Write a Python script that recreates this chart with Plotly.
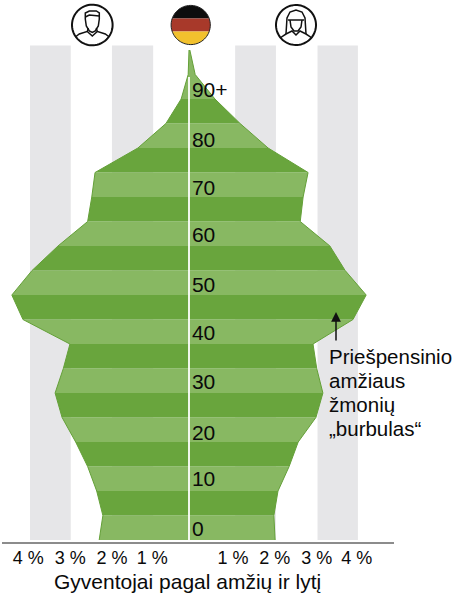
import numpy as np
import plotly.graph_objects as go

W, H = 456, 593

# ---- data ----
ages = [0, 5, 10, 15, 20, 25, 30, 35, 40, 45, 50, 55, 60, 65, 70, 75, 80, 85, 90, 95, 100]
male = [2.18, 2.09, 2.24, 2.46, 2.75, 3.08, 3.25, 3.05, 2.89, 4.03, 4.30, 3.81, 3.18, 2.46, 2.36, 2.28, 1.24, 0.56, 0.19, 0.02, 0.0]
female = [2.09, 2.06, 2.16, 2.43, 2.65, 3.08, 3.25, 3.10, 3.01, 3.98, 4.30, 3.79, 3.42, 2.70, 2.77, 2.89, 1.92, 1.24, 0.63, 0.15, 0.02]
band_low = [-3.86, -1.87, 1.12, 3.12]
band_high = [-2.87, -0.87, 2.11, 4.10]
tick_vals = [-3.9, -2.88, -1.87, -0.89, 1.07, 2.08, 3.1, 4.07]
tick_text = ["4 %", "3 %", "2 %", "1 %", "1 %", "2 %", "3 %", "4 %"]
age_label_pos = [1.9, 12, 21.5, 31.8, 41.8, 51.6, 61.8, 71.4, 81.2, 91.5]
age_labels = ["0", "10", "20", "30", "40", "50", "60", "70", "80", "90+"]
callout_lines = ["Priešpensinio", "amžiaus", "žmonių", "„burbulas“"]
callout_y = [356, 380, 404, 428]

LIGHT = "#88b862"
DARK = "#69a53d"
EDGE = "#64a038"
GREY = "#e6e6e8"
INK = "#0a0a0a"
FONT = "Liberation Sans, Arial, sans-serif"

# pixel geometry of the plot
X0, PX = 189.0, 41.2
Y0, PY = 540.0, 4.9
AXIS_Y = 542.0
XL, XR = 2.0, 394.0

def sx(p):
    return p / W
def sy(p):
    return 1 - p / H

def poly(pts, close=False):
    s = "M" + " L".join(f"{sx(x):.5f},{sy(y):.5f}" for x, y in pts)
    return s + (" Z" if close else "")

def arc(cx, cy, r, a0=0, a1=360, n=72):
    t = np.radians(np.linspace(a0, a1, n))
    return [(cx + r * np.cos(v), cy + r * np.sin(v)) for v in t]

shapes = []
for lo, hi in zip(band_low, band_high):
    shapes.append(dict(type="rect", xref="x", yref="y", x0=lo, x1=hi, y0=0, y1=(Y0 - 45.5) / PY,
                       fillcolor=GREY, line_width=0, layer="below"))

fig = go.Figure()

for i in range(len(ages) - 1):
    if ages[i] == 95:
        continue
    j = i + 1
    if ages[i] == 90:
        ys = [ages[i], ages[i + 1], ages[i + 2], ages[i + 2], ages[i + 1], ages[i]]
        xs = [-male[i], -male[i + 1], -male[i + 2], female[i + 2], female[i + 1], female[i]]
    else:
        ys = [ages[i], ages[j], ages[j], ages[i]]
        xs = [-male[i], -male[j], female[j], female[i]]
    fig.add_trace(go.Scatter(
        x=xs + xs[:1], y=ys + ys[:1], mode="lines", fill="toself",
        fillcolor=LIGHT if i % 2 == 0 else DARK, line=dict(width=0),
        hoverinfo="skip", showlegend=False))

# outline, a little darker at the outer edges
fig.add_trace(go.Scatter(x=[-v for v in male], y=ages, mode="lines",
                         line=dict(color=EDGE, width=1.0), hoverinfo="skip", showlegend=False))
fig.add_trace(go.Scatter(x=female, y=ages, mode="lines",
                         line=dict(color=EDGE, width=1.0), hoverinfo="skip", showlegend=False))

# white centre line
fig.add_trace(go.Scatter(x=[0, 0], y=[0, 94.5], mode="lines",
                         line=dict(color="white", width=1.8), hoverinfo="skip", showlegend=False))

# age labels
fig.add_trace(go.Scatter(x=[0.07] * len(age_labels), y=age_label_pos, mode="text", text=age_labels,
                         textposition="middle right", textfont=dict(family=FONT, size=21, color=INK),
                         cliponaxis=False, hoverinfo="skip", showlegend=False))

# ---- icons ----
def circle_shape(cx, cy, r, width=2.0):
    return dict(type="path", xref="paper", yref="paper", path=poly(arc(cx, cy, r), True),
                line=dict(color="#111", width=width), fillcolor="white")

def line_shape(pts, width=1.5):
    return dict(type="path", xref="paper", yref="paper", path=poly(pts),
                line=dict(color="#111", width=width), fillcolor="rgba(0,0,0,0)")

# man
mx, my, mr = 92.3, 25.0, 20.3
shapes.append(circle_shape(mx, my, mr))
shapes.append(line_shape([(mx-7, my-6), (mx-7, my-12), (mx-3, my-14), (mx+4, my-14), (mx+7, my-12), (mx+7, my-6),
                          (mx+6, my+1), (mx+3, my+6), (mx, my+7.5), (mx-3, my+6), (mx-6, my+1), (mx-7, my-6)]))
shapes.append(line_shape([(mx-7, my-8), (mx-3, my-10), (mx+7, my-9)]))
shapes.append(line_shape([(mx-17, my+12), (mx-13, my+9), (mx-5, my+6.5), (mx-4, my+3)]))
shapes.append(line_shape([(mx+17, my+12), (mx+13, my+9), (mx+5, my+6.5), (mx+4, my+3)]))
shapes.append(line_shape([(mx-5, my+6.5), (mx, my+11), (mx+5, my+6.5)]))

# woman
fx, fy, fr = 296.0, 25.0, 20.0
shapes.append(circle_shape(fx, fy, fr))
shapes.append(line_shape([(fx-10, fy+9), (fx-9, fy-7), (fx-6, fy-13), (fx, fy-15), (fx+6, fy-13), (fx+9, fy-7), (fx+10, fy+9)]))
shapes.append(line_shape([(fx-8, fy-5), (fx+8, fy-5)]))
shapes.append(line_shape([(fx-6, fy-5), (fx-5, fy+2), (fx-2, fy+6), (fx+2, fy+6), (fx+5, fy+2), (fx+6, fy-5)]))
shapes.append(line_shape([(fx-16, fy+13), (fx-10, fy+9), (fx-4, fy+6), (fx, fy+10), (fx+4, fy+6), (fx+10, fy+9), (fx+16, fy+13)]))

# flag
gx, gy, gr = 190.7, 25.0, 19.6
def flag_band(y0, y1, color):
    left = [(gx - np.sqrt(gr**2 - (y - gy)**2), y) for y in np.linspace(y0, y1, 16)]
    right = [(gx + np.sqrt(gr**2 - (y - gy)**2), y) for y in np.linspace(y1, y0, 16)]
    return dict(type="path", xref="paper", yref="paper", path=poly(left + right, True),
                fillcolor=color, line_width=0)
shapes.append(flag_band(gy - gr, gy - 6.6, "#0d0d0d"))
shapes.append(flag_band(gy - 6.6, gy + 6.6, "#a8392a"))
shapes.append(flag_band(gy + 6.6, gy + gr, "#f2c12e"))
shapes.append(dict(type="path", xref="paper", yref="paper", path=poly(arc(gx, gy, gr), True),
                   line=dict(color="#222", width=1), fillcolor="rgba(0,0,0,0)"))

annotations = [
    dict(x=sx(187.5), y=sy(581), xref="paper", yref="paper", text="Gyventojai pagal amžių ir lytį",
         showarrow=False, xanchor="center", yanchor="middle", font=dict(family=FONT, size=21, color=INK)),
    dict(x=sx(336), y=sy(312), ax=0, ay=30, xref="paper", yref="paper", axref="pixel", ayref="pixel",
         text="", showarrow=True, arrowhead=2, arrowsize=1.3, arrowwidth=1.5, arrowcolor="#111"),
]
for line, py in zip(callout_lines, callout_y):
    annotations.append(dict(x=sx(327), y=sy(py), xref="paper", yref="paper", text=line, showarrow=False,
                            xanchor="left", yanchor="middle", font=dict(family=FONT, size=20.5, color=INK)))

fig.update_layout(
    width=W, height=H, margin=dict(l=0, r=0, t=0, b=0),
    paper_bgcolor="white", plot_bgcolor="rgba(0,0,0,0)",
    shapes=shapes, annotations=annotations, showlegend=False,
    xaxis=dict(domain=[XL / W, XR / W], range=[(XL - X0) / PX, (XR - X0) / PX],
               tickmode="array", tickvals=tick_vals, ticktext=tick_text, ticks="", ticklen=0,
               ticklabelstandoff=-2,
               tickfont=dict(family=FONT, size=18, color=INK),
               showgrid=False, zeroline=False, showline=True, linecolor="#8c8c8c", linewidth=2),
    yaxis=dict(domain=[1 - AXIS_Y / H, 1], range=[(Y0 - AXIS_Y) / PY, Y0 / PY],
               visible=False, showgrid=False, zeroline=False),
)

fig.write_html("out.html", config={"displayModeBar": False},
               post_script="document.body.style.margin='0';document.body.style.overflow='hidden';")
